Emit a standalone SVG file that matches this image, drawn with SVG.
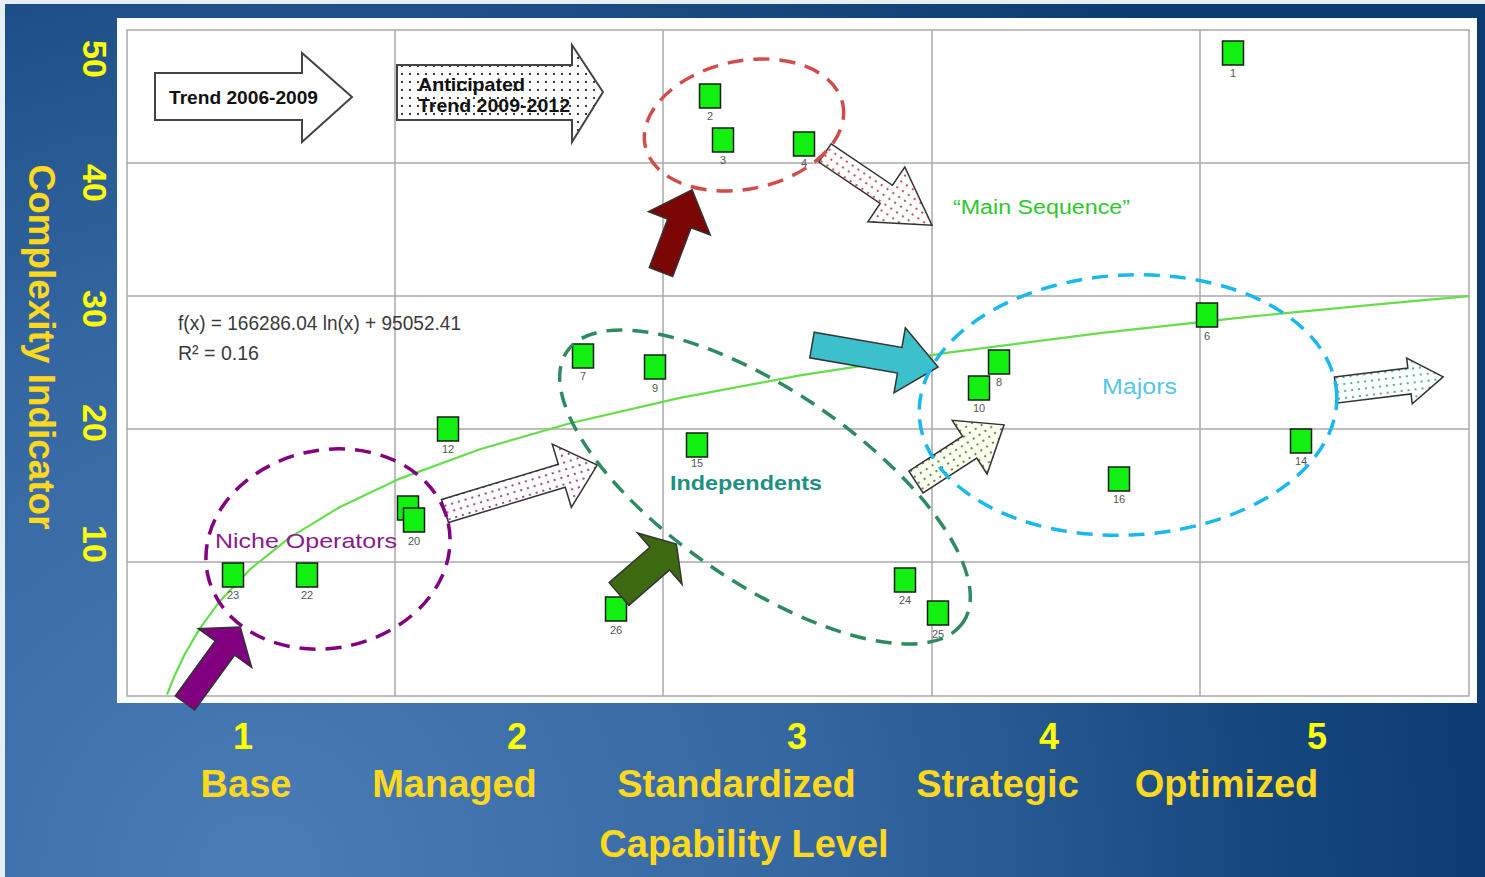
<svg xmlns="http://www.w3.org/2000/svg" width="1485" height="877" viewBox="0 0 1485 877">
<defs>
<radialGradient id="bg" gradientUnits="userSpaceOnUse" cx="260" cy="877" r="1250">
<stop offset="0" stop-color="#4a7db7"/>
<stop offset="0.45" stop-color="#3467a2"/>
<stop offset="0.8" stop-color="#16477f"/>
<stop offset="1" stop-color="#0c3b71"/>
</radialGradient>
<pattern id="dBlack" width="8" height="8" patternUnits="userSpaceOnUse"><rect width="8" height="8" fill="#fff"/><circle cx="2" cy="2" r="1.1" fill="#111"/></pattern>
<pattern id="dPurple" width="7" height="7" patternUnits="userSpaceOnUse"><rect width="7" height="7" fill="#fff"/><circle cx="2" cy="2" r="1.1" fill="#8a1a8a"/></pattern>
<pattern id="dRed" width="7" height="7" patternUnits="userSpaceOnUse"><rect width="7" height="7" fill="#fff"/><circle cx="2" cy="2" r="1.1" fill="#c02a2a"/></pattern>
<pattern id="dGreen" width="7" height="7" patternUnits="userSpaceOnUse"><rect width="7" height="7" fill="#fbfff0"/><circle cx="2" cy="2" r="1.1" fill="#4d6b1f"/></pattern>
<pattern id="dTeal" width="7" height="7" patternUnits="userSpaceOnUse"><rect width="7" height="7" fill="#fff"/><circle cx="2" cy="2" r="1.1" fill="#2a9a8a"/></pattern>
<style>
.grid{stroke:#a9a9a9;stroke-width:1.5;fill:none}
.pt{fill:#12f012;stroke:#1a1a1a;stroke-width:1.5}
.plbl{font-family:"Liberation Sans",Arial,sans-serif;font-size:11px;fill:#555;text-anchor:middle}
.ax{font-family:"Liberation Sans",Arial,sans-serif;font-weight:bold;fill:#ffff00}
.axn{font-family:"Liberation Sans",Arial,sans-serif;font-weight:bold;fill:#ffd820;text-anchor:middle}
.clu{fill:none;stroke-width:3.5;stroke-dasharray:16 10}
.arr{stroke:#333;stroke-width:1.5;stroke-linejoin:miter}
.lbl{font-family:"Liberation Sans",Arial,sans-serif}
</style>
</defs>
<rect width="1485" height="877" fill="url(#bg)"/>
<rect x="0" y="0" width="5" height="877" fill="#e8eef5"/>
<rect x="0" y="0" width="1485" height="4" fill="#e8eef5"/>
<g id="plot">
<rect x="117" y="18" width="1360" height="685" fill="#ffffff"/>
<rect x="127" y="30" width="1342" height="666" class="grid"/>
<path class="grid" d="M395 30V696M663 30V696M932 30V696M1200 30V696M127 163H1469M127 296H1469M127 429H1469M127 562H1469"/>
</g>
<g id="trendline">
<polyline fill="none" stroke="#66dd4c" stroke-width="2.2" stroke-linejoin="round" points="167,694.7 175,674.7 185,653.8 200,628.1 220,600.9 250,569.4 290,537.4 340,506.9 400,478.6 480,449.3 570,423.3 680,397.9 800,375.4 950,352.4 1100,333.2 1250,316.6 1380,304.1 1469,296.1"/>
</g>
<g id="points">
<g id="p1"><rect class="pt" x="1222.5" y="41" width="21" height="24"/><text class="plbl" x="1233" y="77">1</text></g>
<g id="p2"><rect class="pt" x="699.5" y="84" width="21" height="24"/><text class="plbl" x="710" y="120">2</text></g>
<g id="p3"><rect class="pt" x="712.5" y="128" width="21" height="24"/><text class="plbl" x="723" y="164">3</text></g>
<g id="p4"><rect class="pt" x="793.5" y="132" width="21" height="24"/><text class="plbl" x="804" y="167">4</text></g>
<g id="p6"><rect class="pt" x="1196.5" y="303" width="21" height="24"/><text class="plbl" x="1207" y="340">6</text></g>
<g id="p7"><rect class="pt" x="572.5" y="344" width="21" height="24"/><text class="plbl" x="583" y="380">7</text></g>
<g id="p8"><rect class="pt" x="988.5" y="350" width="21" height="24"/><text class="plbl" x="999" y="386">8</text></g>
<g id="p9"><rect class="pt" x="644.5" y="355" width="21" height="24"/><text class="plbl" x="655" y="392">9</text></g>
<g id="p10"><rect class="pt" x="968.5" y="376" width="21" height="24"/><text class="plbl" x="979" y="412">10</text></g>
<g id="p12"><rect class="pt" x="437.5" y="417" width="21" height="24"/><text class="plbl" x="448" y="453">12</text></g>
<g id="p14"><rect class="pt" x="1290.5" y="429" width="21" height="24"/><text class="plbl" x="1301" y="465">14</text></g>
<g id="p15"><rect class="pt" x="686.5" y="433" width="21" height="24"/><text class="plbl" x="697" y="467" font-size="10">15</text></g>
<g id="p16"><rect class="pt" x="1108.5" y="467" width="21" height="24"/><text class="plbl" x="1119" y="503">16</text></g>
<g id="p21"><rect class="pt" x="397.5" y="496" width="21" height="24"/></g>
<g id="p20"><rect class="pt" x="403.5" y="508" width="21" height="24"/><text class="plbl" x="414" y="545">20</text></g>
<g id="p22"><rect class="pt" x="296.5" y="563" width="21" height="24"/><text class="plbl" x="307" y="599">22</text></g>
<g id="p23"><rect class="pt" x="222.5" y="563" width="21" height="24"/><text class="plbl" x="233" y="599">23</text></g>
<g id="p24"><rect class="pt" x="894.5" y="568" width="21" height="24"/><text class="plbl" x="905" y="604">24</text></g>
<g id="p25"><rect class="pt" x="927.5" y="601" width="21" height="24"/><text class="plbl" x="938" y="638">25</text></g>
<g id="p26"><rect class="pt" x="605.5" y="597" width="21" height="24"/><text class="plbl" x="616" y="634">26</text></g>
</g>
<g id="connectors">
<polygon id="a-trend" fill="#fff" stroke="#444" stroke-width="2" points="155,73 302,73 302,53 352,97 302,142 302,120 155,120"/>
<polygon id="a-anticipated" fill="url(#dBlack)" stroke="#444" stroke-width="2" points="397,65 572,65 572,45 603,92 572,142 572,120 397,120"/>
<polygon id="a-purple" class="arr" fill="#800080" transform="translate(185,703) rotate(-54)" points="0,-12 68,-12 68,-33 94,0 68,33 68,12 0,12"/>
<polygon id="a-maroon" class="arr" fill="#7a0606" transform="translate(661,272) rotate(-69.3)" points="0,-12.5 52,-12.5 52,-33 88,0 52,33 52,12.5 0,12.5"/>
<polygon id="a-dkgreen" class="arr" fill="#3d6a10" transform="translate(619,594) rotate(-41)" points="0,-15 54,-15 54,-34 76,0 54,34 54,15 0,15"/>
<polygon id="a-cyan" class="arr" fill="#3cc0cc" transform="translate(812,345) rotate(9.9)" points="0,-13 89,-13 89,-33 128,0 89,33 89,13 0,13"/>
<polygon id="a-niche" class="arr" fill="url(#dPurple)" transform="translate(445,511) rotate(-16.8)" points="0,-12 122,-12 122,-33 159,0 122,33 122,12 0,12"/>
<polygon id="a-main" class="arr" fill="url(#dRed)" transform="translate(825,153) rotate(34)" points="0,-11 74,-11 74,-33 129,0 74,33 74,11 0,11"/>
<polygon id="a-indep" class="arr" fill="url(#dGreen)" transform="translate(916,482) rotate(-33)" points="0,-13 64,-13 64,-32 105,0 64,32 64,13 0,13"/>
<polygon id="a-majors" class="arr" fill="url(#dTeal)" transform="translate(1336,390) rotate(-7)" points="0,-13 74,-13 74,-23 108,0 74,23 74,13 0,13"/>
</g>
<g id="clusters">
<ellipse id="c-niche" class="clu" stroke="#800080" cx="328" cy="549" rx="123" ry="99" transform="rotate(-12 328 549)"/>
<ellipse id="c-top" class="clu" stroke="#d24c4c" cx="744" cy="125" rx="101" ry="64" transform="rotate(-12 744 125)"/>
<ellipse id="c-indep" class="clu" stroke="#2e8b60" cx="765" cy="487" rx="240" ry="96" transform="rotate(34.4 765 487)"/>
<ellipse id="c-majors" class="clu" stroke="#1ab8ee" stroke-dasharray="18 10" cx="1128" cy="405" rx="209" ry="130" transform="rotate(-3 1128 405)"/>
</g>
<g id="labels">
<text class="lbl" x="169" y="104" font-size="19" font-weight="bold" fill="#111" textLength="149" lengthAdjust="spacingAndGlyphs">Trend 2006-2009</text>
<text class="lbl" x="418" y="91" font-size="19" font-weight="bold" fill="#111" textLength="107" lengthAdjust="spacingAndGlyphs">Anticipated</text>
<text class="lbl" x="418" y="112" font-size="19" font-weight="bold" fill="#111" textLength="152" lengthAdjust="spacingAndGlyphs">Trend 2009-2012</text>
<text class="lbl" x="178" y="330" font-size="20" fill="#3a3a3a" textLength="283" lengthAdjust="spacingAndGlyphs">f(x) = 166286.04 ln(x) + 95052.41</text>
<text class="lbl" x="178" y="360" font-size="20" fill="#3a3a3a" textLength="81" lengthAdjust="spacingAndGlyphs">R² = 0.16</text>
<text class="lbl" x="953" y="214" font-size="20" fill="#2ec82e" textLength="177" lengthAdjust="spacingAndGlyphs">“Main Sequence”</text>
<text class="lbl" x="215" y="548" font-size="21" fill="#8a1a8a" textLength="182" lengthAdjust="spacingAndGlyphs">Niche Operators</text>
<text class="lbl" x="670" y="490" font-size="21" font-weight="bold" fill="#1f9080" textLength="152" lengthAdjust="spacingAndGlyphs">Independents</text>
<text class="lbl" x="1102" y="394" font-size="22" fill="#55c6e6" textLength="75" lengthAdjust="spacingAndGlyphs">Majors</text>
</g>
<g id="axes">
<text class="ax" font-size="34" text-anchor="middle" transform="translate(83,59) rotate(90)">50</text>
<text class="ax" font-size="34" text-anchor="middle" transform="translate(83,183) rotate(90)">40</text>
<text class="ax" font-size="34" text-anchor="middle" transform="translate(83,309) rotate(90)">30</text>
<text class="ax" font-size="34" text-anchor="middle" transform="translate(83,423) rotate(90)">20</text>
<text class="ax" font-size="34" text-anchor="middle" transform="translate(83,544) rotate(90)">10</text>
<text class="axn" font-size="36" transform="translate(29,347) rotate(90)" textLength="365" lengthAdjust="spacingAndGlyphs">Complexity Indicator</text>
<text class="ax" font-size="36" text-anchor="middle" x="243" y="749">1</text>
<text class="ax" font-size="36" text-anchor="middle" x="517" y="749">2</text>
<text class="ax" font-size="36" text-anchor="middle" x="797" y="749">3</text>
<text class="ax" font-size="36" text-anchor="middle" x="1049" y="749">4</text>
<text class="ax" font-size="36" text-anchor="middle" x="1317" y="749">5</text>
<text class="axn" font-size="38" x="246" y="797">Base</text>
<text class="axn" font-size="38" x="454.5" y="797">Managed</text>
<text class="axn" font-size="38" x="736.5" y="797">Standardized</text>
<text class="axn" font-size="38" x="997.5" y="797">Strategic</text>
<text class="axn" font-size="38" x="1226.5" y="797">Optimized</text>
<text class="axn" font-size="38" x="744" y="857">Capability Level</text>
</g>
</svg>
